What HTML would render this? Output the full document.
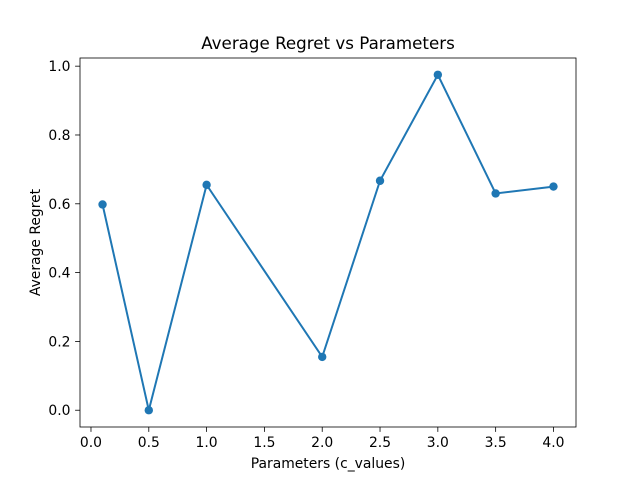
<!DOCTYPE html>
<html><head><meta charset="utf-8"><style>
body{margin:0;background:#fff}
svg{display:block;font-family:"DejaVu Sans","Liberation Sans",sans-serif}
</style></head><body>
<svg id="chart" width="640" height="480"></svg>
<script>
const categories=[0.1,0.5,1.0,2.0,2.5,3.0,3.5,4.0];
const regretValues=[0.598,0.0,0.655,0.155,0.667,0.975,0.630,0.650];
const xTickLabels=["0.0","0.5","1.0","1.5","2.0","2.5","3.0","3.5","4.0"];
const yTickLabels=["0.0","0.2","0.4","0.6","0.8","1.0"];
const NS="http://www.w3.org/2000/svg";
const svg=document.getElementById('chart');
const L=80,R=576,T=58,B=427;
const xmin=Math.min(...categories),xmax=Math.max(...categories),xm=(xmax-xmin)*0.05;
const ymin=Math.min(...regretValues),ymax=Math.max(...regretValues),ym=(ymax-ymin)*0.05;
const X=v=>L+(v-(xmin-xm))/((xmax+xm)-(xmin-xm))*(R-L);
const Y=v=>B-(v-(ymin-ym))/((ymax+ym)-(ymin-ym))*(B-T);
function mk(tag,attrs,txt){const e=document.createElementNS(NS,tag);for(const k in attrs)e.setAttribute(k,attrs[k]);if(txt!==undefined)e.textContent=txt;svg.appendChild(e);return e;}
let e=mk('rect',{x:L,y:T,width:R-L,height:B-T,fill:'none',stroke:'#000','stroke-width':0.8});


xTickLabels.forEach(t=>{const x=X(parseFloat(t));
 e=mk('line',{x1:x,x2:x,y1:B,y2:B+4.9,stroke:'#000','stroke-width':0.8});
 
 
 e=mk('text',{x:x,y:B+20,'font-size':13.9,'text-anchor':'middle'},t);
 
 
});
yTickLabels.forEach(t=>{const y=Y(parseFloat(t));
 e=mk('line',{x1:L-4.9,x2:L,y1:y,y2:y,stroke:'#000','stroke-width':0.8});
 
 
 e=mk('text',{x:L-9.5,y:y+5,'font-size':13.9,'text-anchor':'end'},t);
 
 
});
e=mk('polyline',{points:categories.map((c,i)=>X(c)+','+Y(regretValues[i])).join(' '),fill:'none',stroke:'#1f77b4','stroke-width':2});


categories.forEach((c,i)=>{
 e=mk('circle',{cx:X(c),cy:Y(regretValues[i]),r:4.2,fill:'#1f77b4'});
 
 
});
e=mk('text',{x:(L+R)/2,y:49,'font-size':16.7,'text-anchor':'middle'},'Average Regret vs Parameters');


e=mk('text',{x:(L+R)/2,y:468,'font-size':13.9,'text-anchor':'middle'},'Parameters (c_values)');


e=mk('text',{x:40,y:(T+B)/2,'font-size':13.9,'text-anchor':'middle',transform:'rotate(-90 40 '+((T+B)/2)+')'},'Average Regret');


</script>
</body></html>
